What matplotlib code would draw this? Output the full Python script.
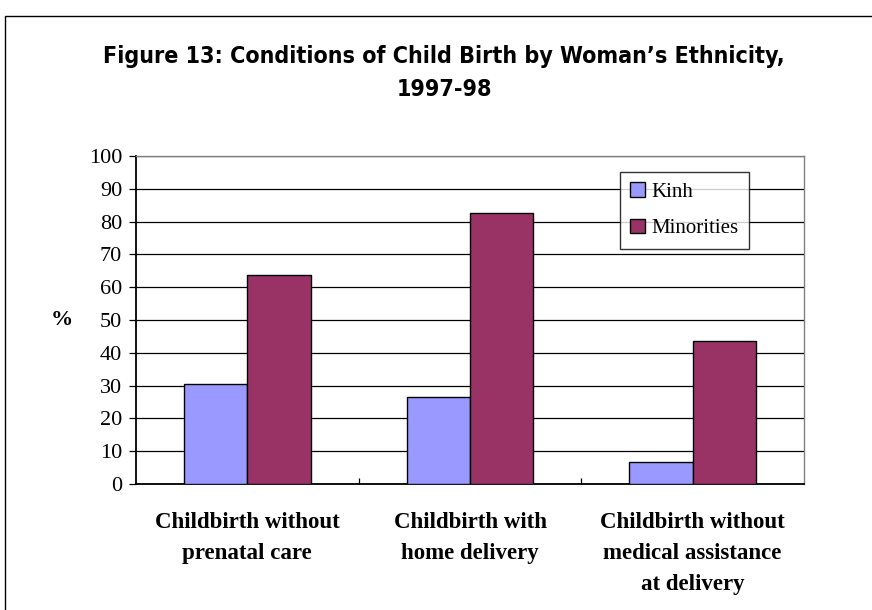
import matplotlib
matplotlib.use("Agg")
import matplotlib.pyplot as plt
from matplotlib.patches import Rectangle
import numpy as np

# data
cats = ["Childbirth without\nprenatal care",
        "Childbirth with\nhome delivery",
        "Childbirth without\nmedical assistance\nat delivery"]
kinh = [30.5, 26.5, 6.7]
minor = [63.7, 82.6, 43.6]
yticks = [0, 10, 20, 30, 40, 50, 60, 70, 80, 90, 100]

W, H = 872, 610
fig = plt.figure(figsize=(W / 100, H / 100), dpi=100)

# outer frame of the chart
fig.patches.append(Rectangle((5 / W, -0.1), 1.2, (H - 16) / H + 0.1, transform=fig.transFigure,
                             fill=False, edgecolor="black", linewidth=1.0))

ax = fig.add_axes([136 / W, 1 - 484 / H, (804 - 136) / W, (484 - 156) / H])

x = np.arange(len(cats))
bw = 0.285
ax.bar(x - bw / 2, kinh, bw, color="#9999FF", edgecolor="black", linewidth=1.0, label="Kinh", zorder=3)
ax.bar(x + bw / 2, minor, bw, color="#993366", edgecolor="black", linewidth=1.0, label="Minorities", zorder=3)

ax.set_xlim(-0.5, len(cats) - 0.5)
ax.set_ylim(0, 100)
ax.set_yticks(yticks)
ax.set_yticklabels([str(v) for v in yticks], family="Liberation Serif", fontsize=16)
ax.yaxis.grid(True, color="black", linewidth=0.9, zorder=0)
ax.tick_params(axis="y", direction="out", length=5, width=0.9, pad=5)

ax.set_xticks([0.5, 1.5])
ax.set_xticklabels([])
ax.tick_params(axis="x", direction="in", length=4, width=0.9)
for i, c in enumerate(cats):
    ax.text(i, -8.6, c, ha="center", va="top", family="Liberation Serif", fontweight="bold",
            fontsize=16.5, linespacing=1.62, transform=ax.transData)

for s in ["left", "bottom"]:
    ax.spines[s].set_color("black")
    ax.spines[s].set_linewidth(1.3)
for s in ["top", "right"]:
    ax.spines[s].set_color("#808080")
    ax.spines[s].set_linewidth(1.0)

fig.text(62 / W, 1 - 320 / H, "%", ha="center", va="center", family="Liberation Serif",
         fontweight="bold", fontsize=16)

fig.text(444 / W, 1 - 56 / H, "Figure 13: Conditions of Child Birth by Woman\u2019s Ethnicity,",
         ha="center", va="center", family="DejaVu Sans", fontstretch="condensed", fontweight="bold", fontsize=16.7)
fig.text(444 / W, 1 - 89 / H, "1997-98", ha="center", va="center", family="DejaVu Sans",
         fontstretch="condensed", fontweight="bold", fontsize=16.7)

leg = ax.legend(loc="upper left", bbox_to_anchor=((620 - 136) / (804 - 136), 1 - (172 - 156) / (484 - 156)),
                prop={"family": "Liberation Serif", "size": 15}, frameon=True, fancybox=False,
                edgecolor="black", borderaxespad=0, handlelength=0.7, handleheight=0.7,
                handletextpad=0.3, labelspacing=0.8, borderpad=0.5)
leg.get_frame().set_linewidth(1.0)

fig.savefig("out.png", dpi=100)
